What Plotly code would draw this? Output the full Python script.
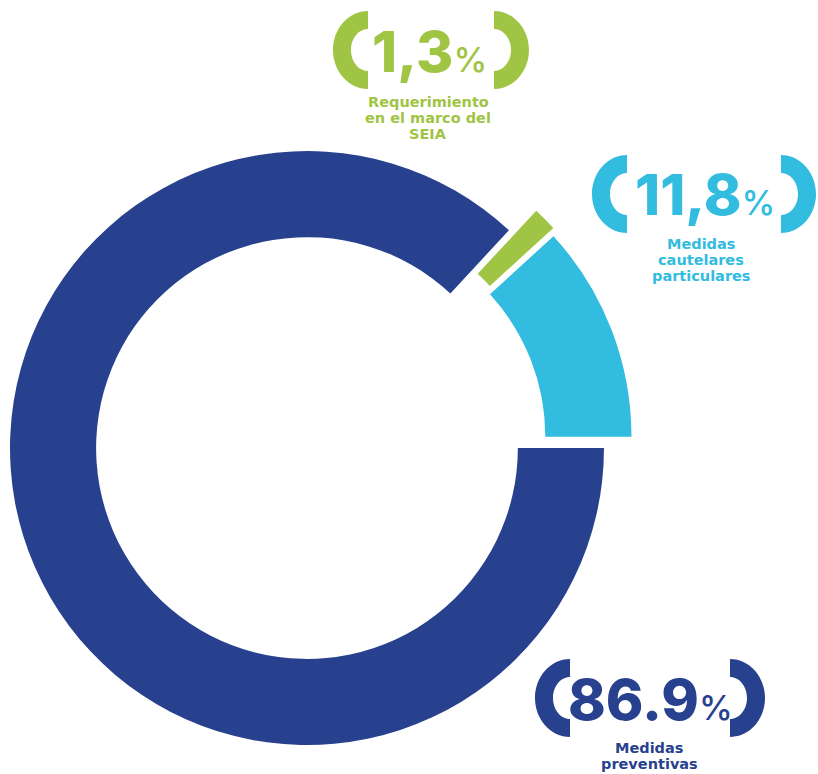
import plotly.graph_objects as go

# ---- data ----
categories = ["Medidas preventivas", "Requerimiento en el marco del SEIA", "Medidas cautelares particulares"]
values = [86.9, 1.3, 11.8]
value_labels = ["86.9", "1,3", "11,8"]
sub_labels = [["Medidas", "preventivas"],
              ["Requerimiento", "en el marco del", "SEIA"],
              ["Medidas", "cautelares", "particulares"]]
colors = ["#28418E", "#A0C444", "#31BCE0"]
pulls = [0.05, 0.065, 0.05]

W, H = 818, 774
R = 297.0
CX, CY = 320.6, 442.1
box = 2 * R * (1 + max(pulls))

def px2paper(x, y):
    return x / W, 1 - y / H

x0, y0 = px2paper(CX - box / 2, CY + box / 2)
x1, y1 = px2paper(CX + box / 2, CY - box / 2)

fig = go.Figure()
fig.add_trace(go.Pie(
    labels=categories, values=values, sort=False, direction="clockwise",
    rotation=90, hole=0.71, pull=pulls,
    marker=dict(colors=colors, line=dict(width=0)),
    textinfo="none", hoverinfo="label+percent", showlegend=False,
    domain=dict(x=[x0, x1], y=[y0, y1]),
))

K = 0.5523

def bracket(cx, cy, rx, ry, rxi, ryi, side):
    s = -1 if side == "left" else 1
    def P(x, y):
        px, py = px2paper(x, y)
        return f"{px:.5f},{py:.5f}"
    d = "M " + P(cx, cy - ry)
    d += " C " + P(cx + s * K * rx, cy - ry) + " " + P(cx + s * rx, cy - K * ry) + " " + P(cx + s * rx, cy)
    d += " C " + P(cx + s * rx, cy + K * ry) + " " + P(cx + s * K * rx, cy + ry) + " " + P(cx, cy + ry)
    d += " L " + P(cx, cy + ryi)
    d += " C " + P(cx + s * K * rxi, cy + ryi) + " " + P(cx + s * rxi, cy + K * ryi) + " " + P(cx + s * rxi, cy)
    d += " C " + P(cx + s * rxi, cy - K * ryi) + " " + P(cx + s * K * rxi, cy - ryi) + " " + P(cx, cy - ryi)
    d += " Z"
    return d

groups = [
    dict(lx=570, rx=730, cy=698, tx=650, ty=699, sx=649, sy=[748, 764]),
    dict(lx=368, rx=494, cy=50, tx=429, ty=51, sx=428, sy=[102, 118, 134]),
    dict(lx=627, rx=781, cy=194, tx=705, ty=194, sx=701, sy=[244, 260, 276]),
]

shapes = []
annotations = []
for i, g in enumerate(groups):
    col = colors[i]
    for side, bx in (("left", g["lx"]), ("right", g["rx"])):
        shapes.append(dict(type="path", xref="paper", yref="paper",
                           path=bracket(bx, g["cy"], 35, 39, 17, 21, side),
                           fillcolor=col, line=dict(width=0)))
    ax, ay = px2paper(g["tx"], g["ty"])
    annotations.append(dict(
        x=ax, y=ay, xref="paper", yref="paper", xanchor="center", yanchor="middle",
        showarrow=False,
        text=f"{value_labels[i]}<span style='font-size:34px;font-weight:500'>%</span>",
        font=dict(family="Inter", size=57, color=col, weight=800),
    ))
    for line, sy in zip(sub_labels[i], g["sy"]):
        sx, syp = px2paper(g["sx"], sy)
        annotations.append(dict(
            x=sx, y=syp, xref="paper", yref="paper", xanchor="center", yanchor="middle",
            showarrow=False, text=line, borderpad=0,
            font=dict(family="DejaVu Sans", size=14.5, color=col, weight="bold"),
        ))

fig.update_layout(
    width=W, height=H, autosize=False,
    margin=dict(l=0, r=0, t=0, b=0),
    paper_bgcolor="white", plot_bgcolor="white",
    shapes=shapes, annotations=annotations,
)

fig.write_html("out.html", config={"displayModeBar": False},
               post_script="document.body.style.margin='0';document.body.style.padding='0';")
